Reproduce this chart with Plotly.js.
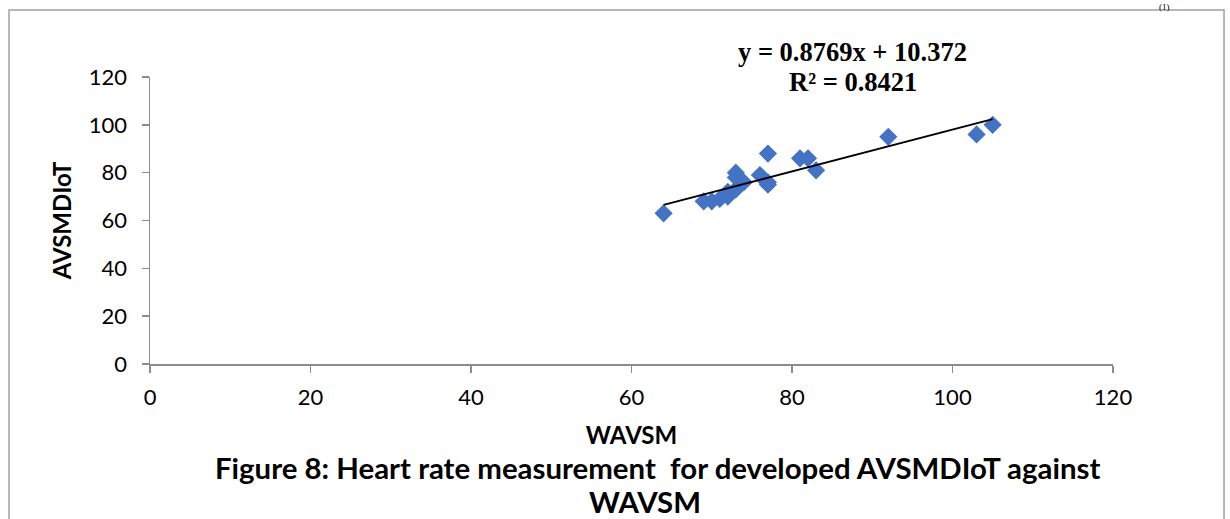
<!DOCTYPE html>
<html>
<head>
<meta charset="utf-8">
<script src="https://cdn.plot.ly/plotly-3.0.1.min.js"></script>
<style>html,body{margin:0;padding:0;background:#fff;}#chart{width:1230px;height:519px;}</style>
</head>
<body>
<div id="chart"></div>
<script>
// Data
const wavsm    = [64, 69, 70, 71, 72, 72, 73, 73, 73, 74, 76, 77, 77, 77, 81, 82, 83, 92, 103, 105];
const avsmdiot = [63, 68, 68, 69, 70, 72, 73, 80, 78, 76, 79, 88, 76, 75, 86, 86, 81, 95, 96, 100];
const xTicks = [0, 20, 40, 60, 80, 100, 120];
const yTicks = [0, 20, 40, 60, 80, 100, 120];
const equationText = "y = 0.8769x + 10.372";
const r2Text = "R² = 0.8421";
const xTitle = "WAVSM";
const yTitle = "AVSMDIoT";
const captionLine1 = "Figure 8: Heart rate measurement  for developed AVSMDIoT against";
const captionLine2 = "WAVSM";
const cornerText = "(1)";

// Linear least-squares trendline computed from the data
const n = wavsm.length;
const mx = wavsm.reduce((a, b) => a + b, 0) / n;
const my = avsmdiot.reduce((a, b) => a + b, 0) / n;
let sxy = 0, sxx = 0;
for (let i = 0; i < n; i++) { sxy += (wavsm[i] - mx) * (avsmdiot[i] - my); sxx += (wavsm[i] - mx) ** 2; }
const slope = sxy / sxx, intercept = my - slope * mx;
const xmin = Math.min(...wavsm), xmax = Math.max(...wavsm);
const trendX = [xmin, xmax];
const trendY = trendX.map(v => slope * v + intercept);

const sans = "Lato, 'Open Sans', sans-serif";
const serif = "'Liberation Serif', 'DejaVu Serif', serif";

const traces = [
  {x: wavsm, y: avsmdiot, type: 'scatter', mode: 'markers',
   marker: {symbol: 'diamond', size: 14, color: '#4472C4', line: {width: 0}}, cliponaxis: false},
  {x: trendX, y: trendY, type: 'scatter', mode: 'lines', line: {color: '#000', width: 1.8}}
];

const layout = {
  width: 1230, height: 519,
  margin: {l: 150, r: 117, t: 77, b: 155},
  paper_bgcolor: '#fff', plot_bgcolor: '#fff',
  showlegend: false,
  font: {family: sans, color: '#000'},
  xaxis: {range: [0, 120], tickvals: xTicks, ticktext: xTicks.map(String), showgrid: false, zeroline: false,
          showline: true, linecolor: '#8c8c8c', linewidth: 1.5, ticks: 'outside', ticklen: 7, tickcolor: '#8c8c8c', tickwidth: 1.5,
          tickfont: {family: sans, size: 22, color: '#000'}, ticklabelstandoff: 6,
          title: {text: '<b>' + xTitle + '</b>', font: {family: sans, size: 24, color: '#000'}, standoff: 18}},
  yaxis: {range: [0, 120], tickvals: yTicks, ticktext: yTicks.map(String), showgrid: false, zeroline: false,
          showline: true, linecolor: '#8c8c8c', linewidth: 1.5, ticks: 'outside', ticklen: 7, tickcolor: '#8c8c8c', tickwidth: 1.5,
          tickfont: {family: sans, size: 22, color: '#000'}, ticklabelstandoff: 10,
          title: {text: '<b>' + yTitle + '</b>', font: {family: sans, size: 24, color: '#000'}, standoff: 10}},
  shapes: [
    {type: 'rect', xref: 'paper', yref: 'paper', x0: -0.1464, x1: 1.1153, y0: -0.6, y1: 1.2334,
     line: {color: '#a0a0a0', width: 1.5}, fillcolor: 'rgba(0,0,0,0)', layer: 'below'}
  ],
  annotations: [
    {xref: 'paper', yref: 'paper', x: 0.729, y: 1.087, text: '<b>' + equationText + '</b>', showarrow: false,
     font: {family: serif, size: 26.5, color: '#000'}, xanchor: 'center', yanchor: 'middle'},
    {xref: 'paper', yref: 'paper', x: 0.730, y: 0.983, text: '<b>' + r2Text + '</b>', showarrow: false,
     font: {family: serif, size: 26.5, color: '#000'}, xanchor: 'center', yanchor: 'middle'},
    {xref: 'paper', yref: 'paper', x: 0.5265, y: -0.359, text: '<b>' + captionLine1 + '</b>', showarrow: false,
     font: {family: sans, size: 29.4, color: '#000'}, xanchor: 'center', yanchor: 'middle'},
    {xref: 'paper', yref: 'paper', x: 0.514, y: -0.48, text: '<b>' + captionLine2 + '</b>', showarrow: false,
     font: {family: sans, size: 29.4, color: '#000'}, xanchor: 'center', yanchor: 'middle'},
    {xref: 'paper', yref: 'paper', x: 1.053, y: 1.245, text: cornerText, showarrow: false,
     font: {family: serif, size: 9, color: '#000'}, xanchor: 'center', yanchor: 'middle'}
  ]
};

Plotly.newPlot('chart', traces, layout, {displayModeBar: false, staticPlot: true});
</script>
</body>
</html>
